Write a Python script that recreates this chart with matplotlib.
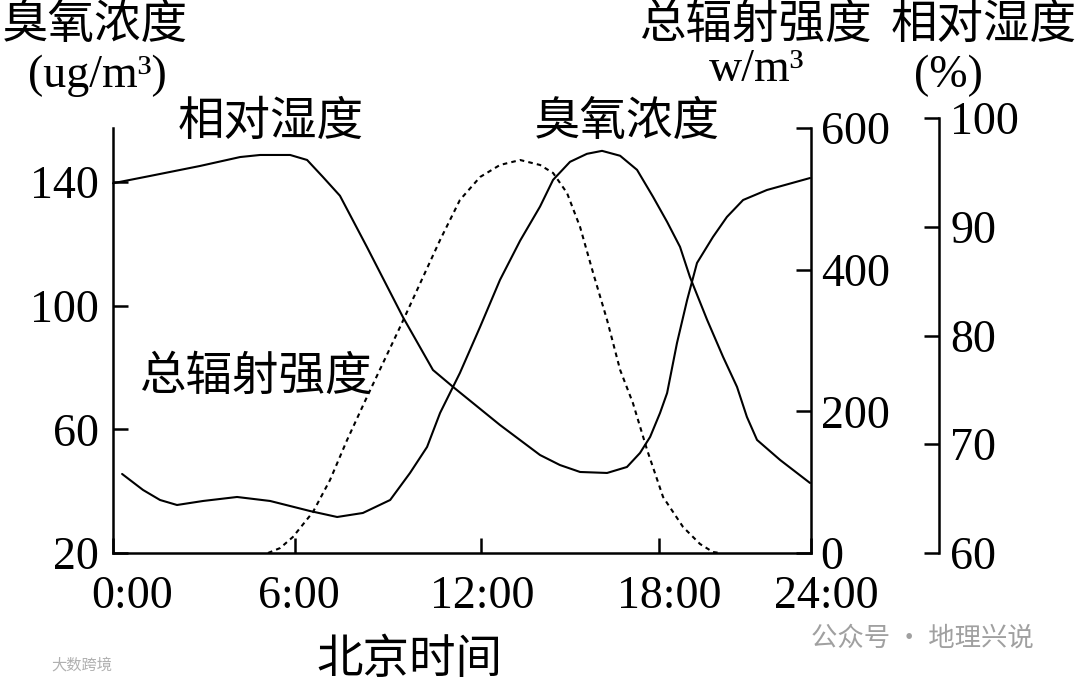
import numpy as np
import matplotlib
matplotlib.use("Agg")
import matplotlib.pyplot as plt
import matplotlib.transforms as mtransforms

# ---------------- data ----------------
hum_hours = [0.0, 1.22, 2.87, 4.19, 4.85, 5.84, 6.39, 6.90, 7.45, 8.32, 9.48, 10.45, 11.10,
             11.74, 12.64, 13.99, 14.66, 15.34, 16.25, 16.92, 17.36, 17.70, 18.04, 18.32,
             18.71, 19.11, 19.50, 20.13, 20.68, 21.32, 22.26, 23.96]
hum_values = [94.0, 94.67, 95.59, 96.41, 96.60, 96.60, 96.14, 94.58, 92.85, 88.14, 81.70,
              76.83, 75.27, 73.79, 71.77, 69.01, 68.09, 67.45, 67.36, 67.91, 69.20, 70.67,
              72.87, 74.71, 79.31, 83.26, 86.67, 89.06, 90.90, 92.46, 93.38, 94.48]

ozone_hours = [0.30, 0.99, 1.55, 2.11, 2.97, 4.09, 5.18, 6.48, 7.36, 8.19, 9.07, 9.71, 10.26,
               10.68, 11.32, 11.97, 12.64, 13.32, 13.99, 14.43, 15.00, 15.57, 16.08,
               16.69, 17.26, 17.80, 18.32, 18.83, 19.22, 19.90, 20.53, 21.08, 21.47, 21.87,
               22.78, 23.96]
ozone_values = [45.55, 40.38, 37.14, 35.52, 36.82, 38.11, 36.82, 33.58, 31.64, 32.94, 37.14,
                45.87, 54.28, 65.28, 78.21, 93.09, 108.29, 121.0, 132.0, 140.64,
                146.46, 149.05, 150.01, 148.42, 143.87, 135.14, 127.05, 118.97, 109.26, 95.36,
                83.39, 73.69, 63.99, 56.55, 50.08, 42.64]

rad_hours = [5.11, 5.51, 5.93, 6.58, 7.13, 7.68, 8.32, 9.39, 10.19, 10.68, 11.32, 11.97,
             12.64, 13.32, 13.99, 14.43, 14.90, 15.34, 15.78, 16.25, 16.69, 17.12, 17.60,
             18.16, 18.95, 19.62, 20.13, 20.41]
rad_values = [0, 7, 22.6, 57.9, 103.1, 159.5, 220.2, 319.1, 395.3, 441.9, 498.4, 530.8,
              547.8, 554.8, 547.8, 536.5, 508.2, 460.2, 395.3, 328.9, 258.4, 211.8, 145.4,
              79.1, 36.7, 12.7, 1.4, 0]

time_ticks = [0, 6, 12, 18, 24]
time_labels = ["0:00", "6:00", "12:00", "18:00", "24:00"]
ozone_ticks = [20, 60, 100, 140]
rad_ticks = [0, 200, 400, 600]
hum_ticks = [60, 70, 80, 90, 100]

# ---------------- style ----------------
CJK = ["Noto Sans CJK SC", "DejaVu Sans"]
SERIF = ["Liberation Serif", "DejaVu Serif"]
FS = 33
FS_CJK = 33.5
LW_AX = 1.8
LW = 1.5

W, H = 1080, 685
fig = plt.figure(figsize=(W / 100, H / 100), dpi=100)
fig.patch.set_facecolor("white")


def fx(px):
    return px / W


def fy(py):
    return 1 - py / H


# the reference's time axis is drawn with slightly uneven spacing
tick_pos = [0, 182, 368, 546, 698]


def fwd(x):
    return np.interp(x, time_ticks, tick_pos)


def inv(p):
    return np.interp(p, tick_pos, time_ticks)


ax = fig.add_axes([fx(113), fy(553), fx(811) - fx(113), fy(128) - fy(553)])
ax.set_xscale("function", functions=(fwd, inv))
ax.set_xlim(0, 24)
ax.set_ylim(20, 157.4)
ax.patch.set_alpha(0)

ax2 = ax.twinx()
ax2.set_ylim(0, 600)

ax3 = fig.add_axes([fx(113), fy(553), fx(939) - fx(113), fy(118) - fy(553)])
ax3.set_ylim(60, 100)
ax3.patch.set_alpha(0)

# lines
ax.plot(ozone_hours, ozone_values, color="black", lw=LW,
        solid_joinstyle="round", solid_capstyle="round")
ax2.plot(rad_hours, rad_values, color="black", lw=1.5, linestyle=(0, (2.2, 2.0)))
trans = mtransforms.blended_transform_factory(ax.transData, ax3.transData)
ax3.plot(hum_hours, hum_values, color="black", lw=LW, transform=trans, clip_on=False,
         solid_joinstyle="round", solid_capstyle="round")

# spines
for s in ["top", "right"]:
    ax.spines[s].set_visible(False)
for s in ["left", "bottom"]:
    ax.spines[s].set_linewidth(LW_AX)
for s in ["top", "left", "bottom"]:
    ax2.spines[s].set_visible(False)
    ax3.spines[s].set_visible(False)
ax2.spines["right"].set_linewidth(LW_AX)
ax3.spines["right"].set_linewidth(LW_AX)

# ticks
ax.set_xticks(time_ticks)
ax.set_xticklabels(time_labels)
ax.xaxis.set_minor_locator(matplotlib.ticker.NullLocator())
ax.set_yticks(ozone_ticks)
ax.tick_params(axis="both", direction="in", length=11, width=LW_AX, labelsize=FS, pad=10)
ax.tick_params(axis="x", pad=16)
ax2.set_yticks(rad_ticks)
ax2.tick_params(axis="y", direction="in", length=11, width=LW_AX, labelsize=FS, pad=7)
ax3.set_yticks(hum_ticks)
ax3.set_xticks([])
ax3.yaxis.tick_right()
ax3.tick_params(axis="y", direction="in", length=11, width=LW_AX, labelsize=FS, pad=8)
for a in (ax, ax2, ax3):
    for lab in a.get_xticklabels() + a.get_yticklabels():
        lab.set_family(SERIF)

# the reference's time labels sit a little right of their tick marks
label_shift_px = [19, 4, 1, 10, 15]
for lab, dx in zip(ax.get_xticklabels(), label_shift_px):
    lab.set_transform(lab.get_transform() +
                      mtransforms.ScaledTranslation(dx / 100, 0, fig.dpi_scale_trans))


# texts
def ctext(px, py, s, fam=CJK, size=FS_CJK, **kw):
    fig.text(fx(px), fy(py), s, family=fam, fontsize=size, ha="center", va="center", **kw)


ctext(95, 25, "臭氧浓度")
ctext(97, 76, "(ug/m³)", fam=SERIF, size=FS)
ctext(271, 122, "相对湿度")
ctext(627, 122, "臭氧浓度")
ctext(255, 377, "总辐射强度")
ctext(755, 25, "总辐射强度")
ctext(757, 70, "w/m³", fam=SERIF, size=FS)
ctext(984, 25, "相对湿度")
ctext(948, 76, "(%)", fam=SERIF, size=FS)
ctext(409, 660, "北京时间")

# watermarks
ctext(922, 638, "公众号 · 地理兴说", size=19, color="#a0a0a0")
ctext(82, 665, "大数跨境", size=11, color="#b0b0b0")

fig.savefig("out.png", dpi=100, facecolor="white")
